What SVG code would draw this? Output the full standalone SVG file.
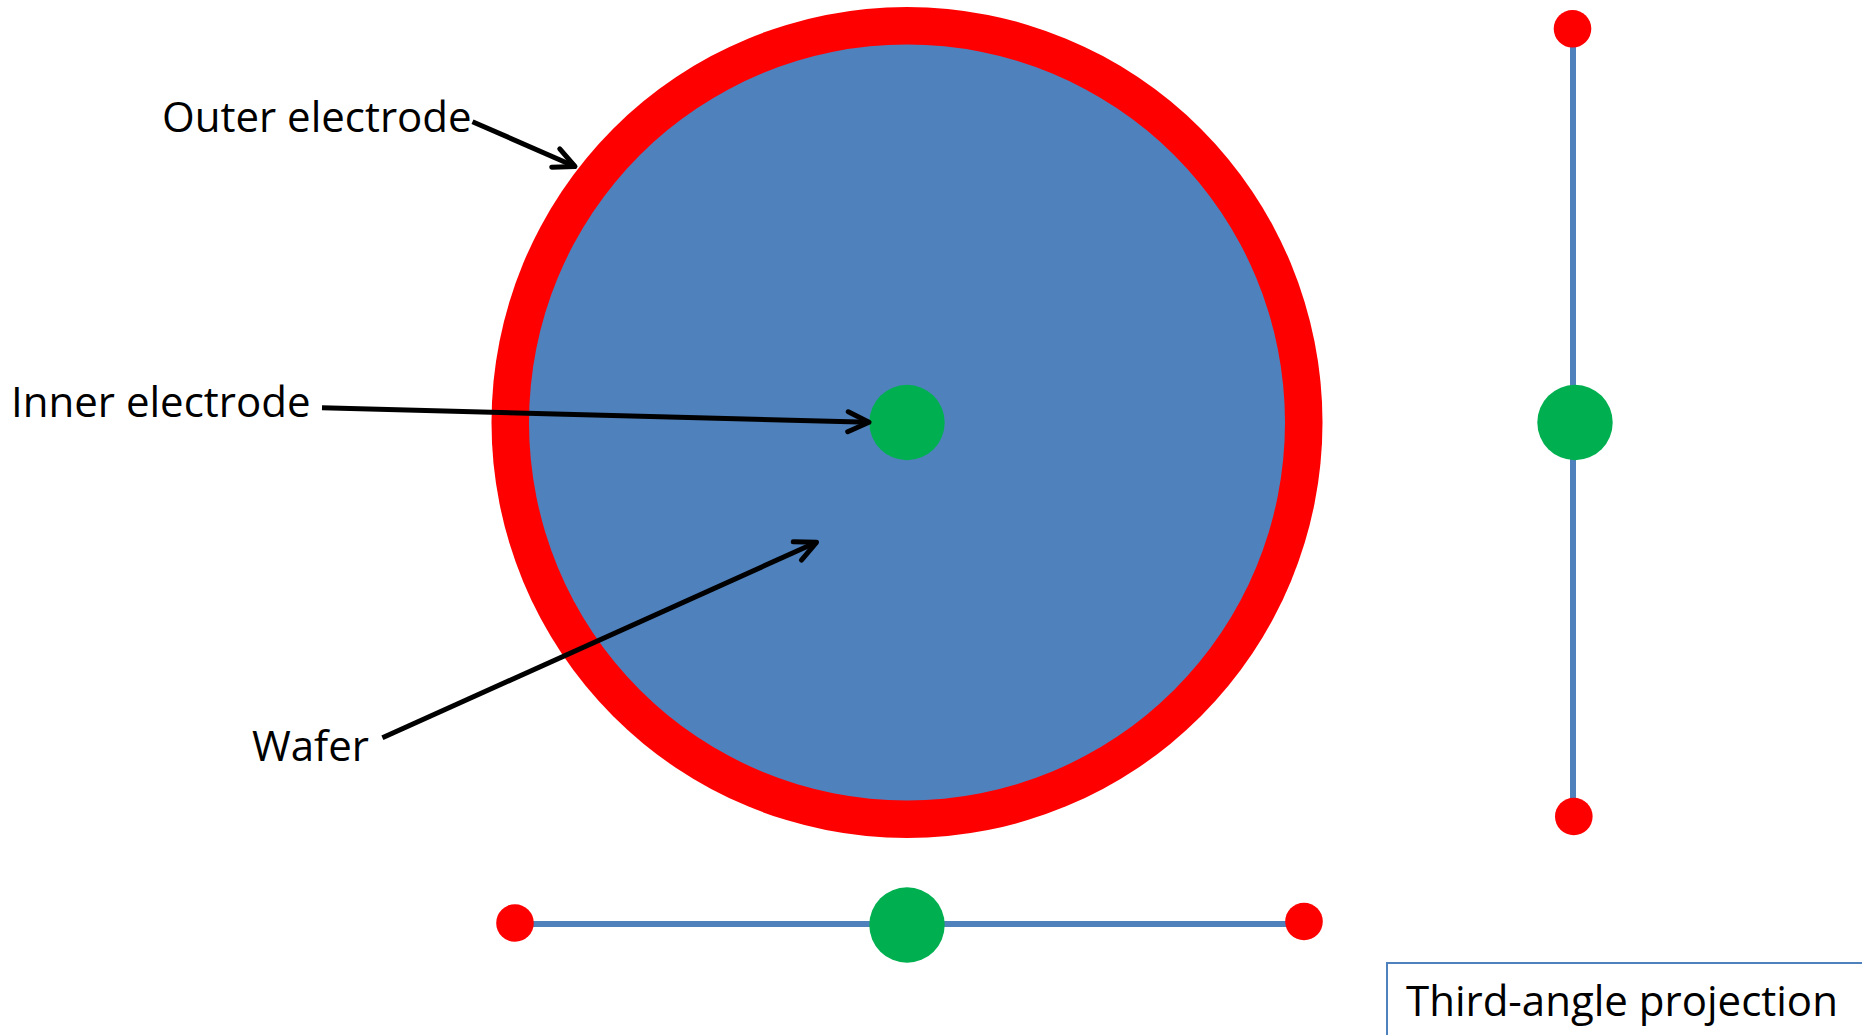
<svg xmlns="http://www.w3.org/2000/svg" width="1862" height="1035" viewBox="0 0 1862 1035">
  <style>
    .lbl { font-family: "Open Sans", "Liberation Sans", sans-serif; font-size: 42px; fill: #000000; }
    .red { fill: #FF0000; }
    .blue { fill: #4F81BD; }
    .green { fill: #00B050; }
    .rod { stroke: #4F81BD; stroke-width: 6; fill: none; }
    .arrow { stroke: #000000; stroke-width: 5; fill: none; marker-end: url(#openArrow); }
  </style>
  <defs>
    <marker id="openArrow" markerUnits="userSpaceOnUse" viewBox="-30 -20 40 40" markerWidth="40" markerHeight="40" refX="0" refY="0" orient="auto" overflow="visible">
      <path d="M -21 -10 L 0 0 L -21 10" fill="none" stroke="#000000" stroke-width="5" stroke-linecap="round" stroke-linejoin="round"/>
    </marker>
  </defs>
  <rect width="1862" height="1035" fill="#FFFFFF"/>

  <g id="outer-electrode">
    <circle class="red" cx="907" cy="422.5" r="415.5"/>
  </g>
  <g id="wafer">
    <circle class="blue" cx="907" cy="422.5" r="378"/>
  </g>
  <g id="inner-electrode">
    <circle class="green" cx="907" cy="422.5" r="37.7"/>
  </g>

  <g id="side-view">
    <line class="rod" x1="1573" y1="29" x2="1573" y2="816"/>
    <circle class="red" cx="1572.5" cy="28.8" r="18.8"/>
    <circle class="green" cx="1575" cy="422.5" r="37.7"/>
    <circle class="red" cx="1573.8" cy="816.5" r="18.8"/>
  </g>

  <g id="bottom-view">
    <line class="rod" x1="515" y1="924" x2="1304" y2="924"/>
    <circle class="red" cx="515" cy="923" r="18.8"/>
    <circle class="green" cx="907" cy="925" r="37.7"/>
    <circle class="red" cx="1304" cy="921.5" r="18.8"/>
  </g>

  <g id="label-outer">
    <text class="lbl" x="162" y="132">Outer electrode</text>
  </g>
  <g id="label-inner">
    <text class="lbl" x="11" y="417">Inner electrode</text>
  </g>
  <g id="label-wafer">
    <text class="lbl" x="252" y="761">Wafer</text>
  </g>
  <g id="projection-note">
    <rect x="1387" y="963" width="490" height="100" fill="#FFFFFF" stroke="#4F81BD" stroke-width="2"/>
    <text class="lbl" x="1406" y="1016">Third-angle projection</text>
  </g>

  <g id="connectors">
    <line class="arrow" x1="472.5" y1="121.7" x2="575" y2="166.5"/>
    <line class="arrow" x1="322" y1="407.7" x2="869" y2="422.3"/>
    <line class="arrow" x1="382.4" y1="737.7" x2="816.5" y2="542.3"/>
  </g>
</svg>
